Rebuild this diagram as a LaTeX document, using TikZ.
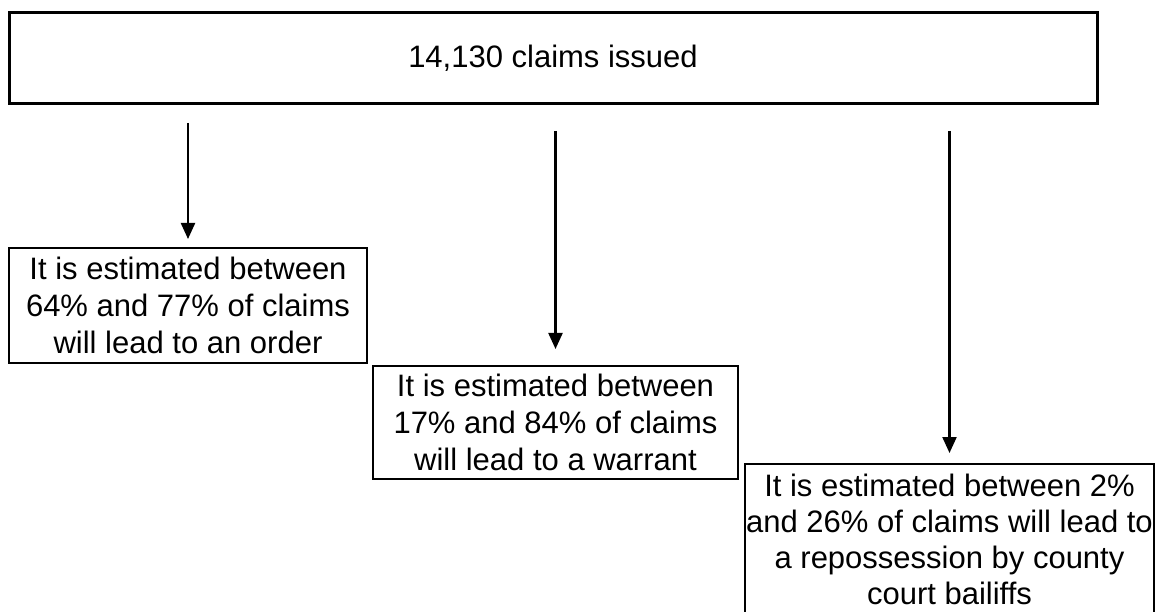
\documentclass[tikz,border=0pt]{standalone}
\usepackage{fontspec}
\setmainfont{Liberation Sans}
\usetikzlibrary{arrows.meta}
\begin{document}
\begin{tikzpicture}[x = 1pt, y = -1pt,
  box/.style = {draw, line width = 2pt, align = center, inner sep = 1pt,
                font = \fontsize{31}{37}\selectfont},
  flow/.style = {-{Triangle[width = 14pt, length = 16pt]}, line width = 2.2pt}]
\useasboundingbox (0, 0) rectangle (1162, 612);
\node[box, line width = 3pt, minimum width = 1088, minimum height = 91] (claims)
  at (553, 58.5) {14,130 claims issued};
\node[box, minimum width = 358, minimum height = 115] (order) at (188, 305.5)
  {It is estimated between\\64\% and 77\% of claims\\will lead to an order};
\node[box, minimum width = 365, minimum height = 113] (warrant) at (555.5, 422.5)
  {It is estimated between\\17\% and 84\% of claims\\will lead to a warrant};
\node[box, anchor = north, minimum width = 409, minimum height = 150,
      font = \fontsize{31}{36}\selectfont] (bailiffs)
  at (949.5, 463)
  {It is estimated between 2\%\\and 26\% of claims will lead to\\a repossession by county\\court bailiffs};
\foreach \n/\y/\g in {order/123/8, warrant/131/16, bailiffs/131/10}{
  \coordinate (\n-from) at (\n.north |- 0,\y);
  \draw[flow, shorten > = \g pt] (\n-from) -- (\n);
}
\end{tikzpicture}
\end{document}
